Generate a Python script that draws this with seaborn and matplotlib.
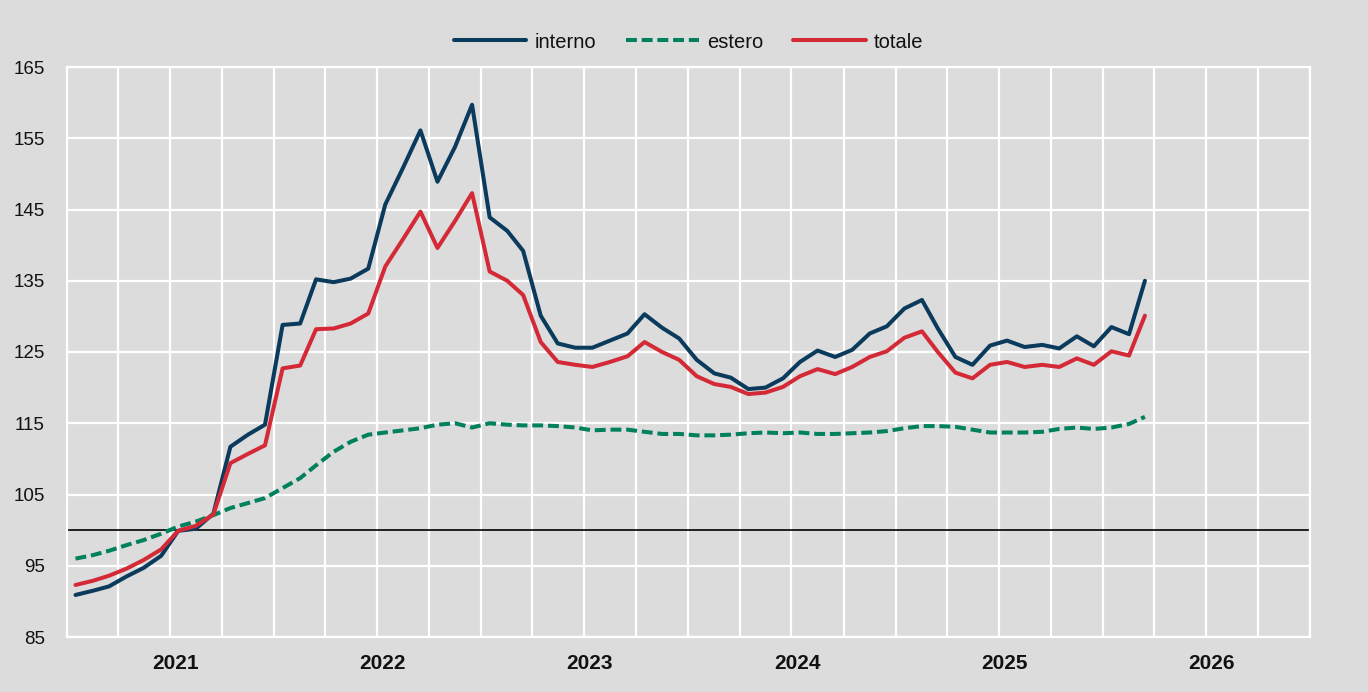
import numpy as np
import pandas as pd
import matplotlib
matplotlib.use("Agg")
import matplotlib.pyplot as plt
import matplotlib.dates as mdates
import matplotlib.transforms as mtrans
import seaborn as sns

# -----------------------------
# data (monthly index, 2021 = 100), Jan 2021 .. Mar 2026
# -----------------------------
interno = [90.9, 91.5, 92.1, 93.5, 94.7, 96.4, 99.9, 100.2, 102.3, 111.7, 113.4, 114.8,
           128.8, 129.0, 135.2, 134.8, 135.3, 136.7, 145.7, 150.8, 156.1, 148.9, 153.8, 159.7,
           143.9, 142.0, 139.2, 130.1, 126.2, 125.6, 125.6, 126.6, 127.6, 130.3, 128.4, 126.9,
           123.9, 122.0, 121.4, 119.8, 120.0, 121.3, 123.6, 125.2, 124.3, 125.3, 127.6, 128.6,
           131.1, 132.3, 128.3, 124.3, 123.2, 125.9, 126.6, 125.7, 126.0, 125.5, 127.2, 125.8,
           128.5, 127.5, 135.0]
estero = [96.0, 96.5, 97.1, 97.9, 98.6, 99.5, 100.5, 101.2, 102.1, 103.1, 103.8, 104.5,
          105.9, 107.3, 109.1, 111.0, 112.4, 113.4, 113.7, 114.0, 114.3, 114.8, 115.0, 114.4,
          115.0, 114.8, 114.7, 114.7, 114.6, 114.4, 114.0, 114.1, 114.1, 113.8, 113.5, 113.5,
          113.3, 113.3, 113.4, 113.6, 113.7, 113.6, 113.7, 113.5, 113.5, 113.6, 113.7, 113.9,
          114.3, 114.6, 114.6, 114.5, 114.1, 113.7, 113.7, 113.7, 113.8, 114.2, 114.4, 114.2,
          114.4, 114.9, 115.9]
totale = [92.3, 92.9, 93.6, 94.6, 95.8, 97.3, 99.9, 100.6, 102.2, 109.4, 110.7, 111.9,
          122.7, 123.1, 128.2, 128.3, 129.0, 130.4, 137.0, 140.8, 144.7, 139.6, 143.4, 147.3,
          136.3, 135.0, 133.0, 126.4, 123.6, 123.2, 122.9, 123.6, 124.4, 126.4, 125.0, 123.9,
          121.6, 120.5, 120.1, 119.1, 119.3, 120.1, 121.6, 122.6, 121.9, 122.9, 124.3, 125.1,
          127.0, 127.9, 125.0, 122.1, 121.3, 123.2, 123.6, 122.9, 123.2, 122.9, 124.1, 123.2,
          125.1, 124.5, 130.1]
yticks = [85, 95, 105, 115, 125, 135, 145, 155, 165]

# points sit in the middle of each month
months = pd.date_range("2021-01-01", periods=len(interno), freq="MS") + pd.Timedelta(days=15)

bg = "#dcdcdc"
sns.set_theme(style="darkgrid", rc={"axes.facecolor": bg, "figure.facecolor": bg,
                                    "grid.color": "white", "grid.linewidth": 1.6,
                                    "text.color": "#111111", "xtick.color": "#111111",
                                    "ytick.color": "#111111"})
plt.rcParams["font.family"] = ["Liberation Sans", "DejaVu Sans"]

fig = plt.figure(figsize=(13.68, 6.92), dpi=100)
ax = fig.add_axes([67 / 1368, 1 - 637 / 692, (1310 - 67) / 1368, (637 - 67) / 692])

lw = 2.9
sns.lineplot(x=months, y=interno, ax=ax, color="#0a3a5c", lw=lw, label="interno")
sns.lineplot(x=months, y=estero, ax=ax, color="#00805c", lw=lw, label="estero",
             linestyle=(0, (2.7, 1.2)))
sns.lineplot(x=months, y=totale, ax=ax, color="#d42a37", lw=lw, label="totale")
ax.axhline(100, color="black", lw=1.2, zorder=1.5)

ax.set_ylim(85, 165)
ax.set_yticks(yticks)
ax.set_xlim(pd.Timestamp("2021-01-01"), pd.Timestamp("2027-01-01"))
# quarterly gridlines, year labels in the middle of each year
ax.xaxis.remove_overlapping_locs = False
ax.xaxis.set_major_locator(mdates.MonthLocator(bymonth=[1, 4, 7, 10]))
ax.xaxis.set_major_formatter(plt.NullFormatter())
ax.xaxis.set_minor_locator(mdates.MonthLocator(bymonth=[7]))
ax.xaxis.set_minor_formatter(mdates.DateFormatter("%Y"))
ax.tick_params(axis="x", which="both", length=0, pad=12, bottom=True, labelbottom=True)
ax.tick_params(axis="x", which="minor", labelsize=15)
shift = mtrans.ScaledTranslation(6 / 100, 0, fig.dpi_scale_trans)
for t in ax.get_xticklabels(minor=True):
    t.set_fontweight("bold")
    t.set_transform(t.get_transform() + shift)
ax.tick_params(axis="y", length=0, pad=16, labelsize=13.5)
ax.grid(True, which="major", axis="both")
ax.set_xlabel("")
ax.set_ylabel("")
for s in ax.spines.values():
    s.set_visible(True)
    s.set_color("white")
    s.set_linewidth(1.6)

ax.legend_.remove()
handles, labels = ax.get_legend_handles_labels()
fig.legend(handles, labels, loc="center", bbox_to_anchor=(688.5 / 1368, 1 - 42 / 692),
           ncol=3, frameon=False, fontsize=14.5, handlelength=3.6, handletextpad=0.4,
           columnspacing=1.5)

fig.savefig("out.png", dpi=100, facecolor=bg)
